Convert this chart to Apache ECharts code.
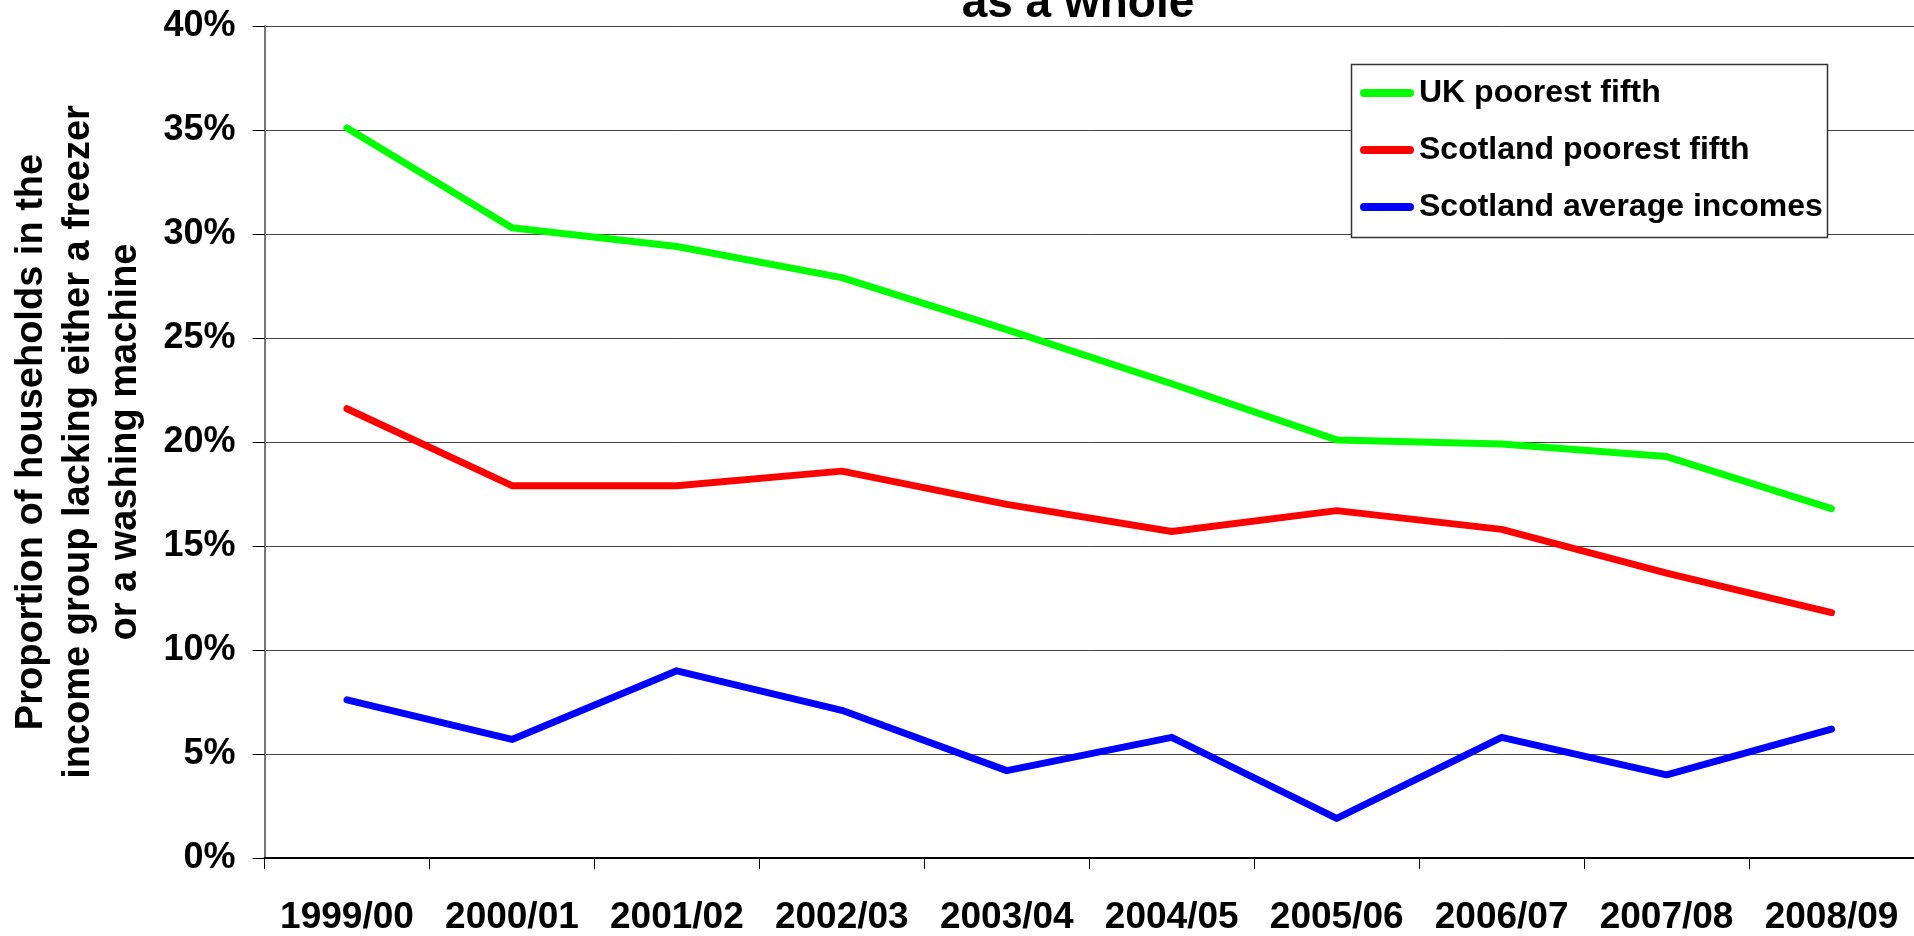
<!DOCTYPE html>
<html>
<head>
<meta charset="utf-8">
<script src="https://cdn.jsdelivr.net/npm/echarts@6/dist/echarts.min.js"></script>
<style>
html,body{margin:0;padding:0;background:#fff;}
#chart{width:1914px;height:936px;}
</style>
</head>
<body>
<div id="chart"></div>
<script>
const categories = ['1999/00','2000/01','2001/02','2002/03','2003/04','2004/05','2005/06','2006/07','2007/08','2008/09'];
const ukPoorest = [35.1, 30.3, 29.4, 27.9, 25.4, 22.8, 20.1, 19.9, 19.3, 16.8];
const scotlandPoorest = [21.6, 17.9, 17.9, 18.6, 17.0, 15.7, 16.7, 15.8, 13.7, 11.8];
const scotlandAverage = [7.6, 5.7, 9.0, 7.1, 4.2, 5.8, 1.9, 5.8, 4.0, 6.2];
const seriesNames = ['UK poorest fifth','Scotland poorest fifth','Scotland average incomes'];
const titleText = 'as a whole';
const yAxisName = 'Proportion of households in the\nincome group lacking either a freezer\nor a washing machine';

const FONT = '"Liberation Sans", Arial, sans-serif';
const chart = echarts.init(document.getElementById('chart'), null, {renderer:'canvas'});
const capsule = 'path://M4,0 L50,0 A4,4 0 0 1 50,8 L4,8 A4,4 0 0 1 4,0 Z';

chart.setOption({
  animation: false,
  backgroundColor: '#fff',
  textStyle: {fontFamily: FONT},
  grid: {left: 261, top: 26, bottom: 75, right: -3, containLabel: false},
  graphic: [
    {type:'text', z: 10, style:{text: titleText, x: 1078, y: 4, textAlign:'center', textVerticalAlign:'middle', font:'bold 46px ' + FONT, fill:'#000'}},
    {type:'rect', z: 3, shape:{x:1351.5, y:64.5, width:476, height:173}, style:{fill:'#fff', stroke:'#333', lineWidth:1.5}}
  ],
  legend: {
    orient: 'vertical', left: 1352, top: 65, padding: [11, 8, 8, 8], z: 5,
    itemWidth: 54, itemHeight: 8, itemGap: 23,
    icon: capsule,
    textStyle: {fontSize: 32, fontWeight: 'bold', color: '#000', fontFamily: FONT, lineHeight: 34},
    data: seriesNames
  },
  xAxis: {
    type: 'category', data: categories, boundaryGap: true,
    axisLine: {show: true, lineStyle: {color: '#000', width: 2}},
    axisTick: {show: true, length: 11, lineStyle: {color: '#000', width: 1}},
    axisLabel: {fontSize: 37, fontWeight: 'bold', color: '#000', margin: 41, fontFamily: FONT, interval: 0},
    splitLine: {show: false}
  },
  yAxis: {
    type: 'value', min: 0, max: 40, interval: 5,
    name: yAxisName, nameLocation: 'middle', nameRotate: 90, nameGap: 115.5,
    nameTextStyle: {fontSize: 38, fontWeight: 'bold', color: '#000', lineHeight: 47, fontFamily: FONT, align: 'center'},
    axisLine: {show: true, lineStyle: {color: '#777', width: 2}},
    axisTick: {show: true, inside: false, length: 12, lineStyle: {color: '#000', width: 1}},
    axisLabel: {formatter: '{value}%', fontSize: 36, fontWeight: 'bold', color: '#000', margin: 29, fontFamily: FONT},
    splitLine: {show: true, lineStyle: {color: '#444', width: 1}}
  },
  series: [
    {name: seriesNames[0], type: 'line', data: ukPoorest, symbol: 'none', color: '#00FF00', lineStyle: {width: 7, color: '#00FF00', cap: 'round', join: 'round'}, z: 2},
    {name: seriesNames[1], type: 'line', data: scotlandPoorest, symbol: 'none', color: '#FF0000', lineStyle: {width: 7, color: '#FF0000', cap: 'round', join: 'round'}, z: 2},
    {name: seriesNames[2], type: 'line', data: scotlandAverage, symbol: 'none', color: '#0000FF', lineStyle: {width: 7, color: '#0000FF', cap: 'round', join: 'round'}, z: 2}
  ]
});
</script>
</body>
</html>
